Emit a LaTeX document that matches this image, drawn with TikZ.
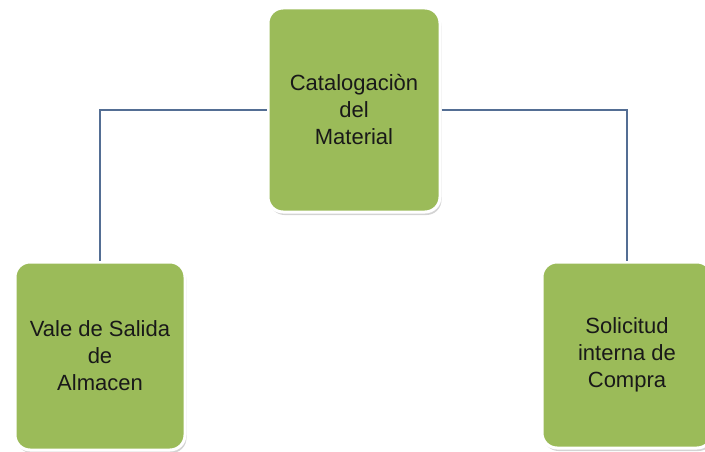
\documentclass[tikz,border=0pt]{standalone}
\usepackage{fontspec}
\setmainfont{Liberation Sans}
\usetikzlibrary{shadows}
\definecolor{boxgreen}{RGB}{155,187,89}
\definecolor{linkblue}{RGB}{84,110,148}
\tikzset{
  card/.style={rectangle, rounded corners=15pt, fill=boxgreen, draw=white, line width=3pt,
    minimum width=172pt, minimum height=204pt, align=center, inner sep=0pt,
    font=\fontsize{22pt}{27pt}\selectfont, text=black!90,
    drop shadow={opacity=0.35, shadow xshift=1.5pt, shadow yshift=-3pt}},
  link/.style={draw=linkblue, line width=1.4pt}
}
\begin{document}
\begin{tikzpicture}[x=1pt,y=1pt]
\useasboundingbox (0,0) rectangle (705,-452);
\clip (0,0) rectangle (705,-452);
\node[card] (top) at (354,-110) {Catalogaciòn\\del\\Material};
\node[card, minimum width=170pt, minimum height=188pt] (left) at (100,-356) {Vale de Salida\\de\\Almacen};
\node[card, minimum width=170pt, minimum height=186pt] (right) at (627,-355) {Solicitud\\interna de\\Compra};
\begin{scope}[on background layer/.try]
\end{scope}
\draw[link] (top.west) -| (left.north);
\draw[link] (top.east) -| (right.north);
\end{tikzpicture}
\end{document}
